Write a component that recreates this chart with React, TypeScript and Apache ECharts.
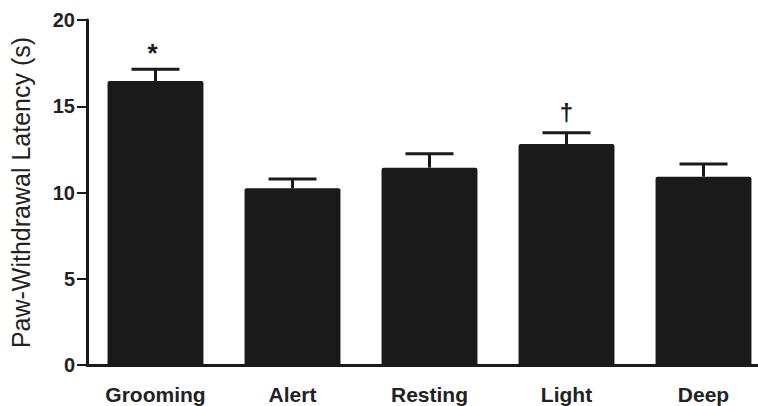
import React, { useEffect, useRef } from "react";
import * as echarts from "echarts";

const categories = ["Grooming", "Alert", "Resting", "Light", "Deep"];
const means = [16.46, 10.24, 11.44, 12.81, 10.92];
const sems = [0.68, 0.54, 0.81, 0.66, 0.73];
const marks = ["*", "", "", "†", ""];
const yTicks = { min: 0, max: 20, interval: 5 };

const INK = "#1a1a1a";
const FONT = "Liberation Sans, Arial, sans-serif";

export default function App() {
  const ref = useRef<HTMLDivElement>(null);
  useEffect(() => {
    if (!ref.current) return;
    const chart = echarts.init(ref.current, null, { renderer: "svg" });
    const errData = means.map((m, i) => [i, m, sems[i], marks[i]]);
    chart.setOption({
      animation: false,
      backgroundColor: "#ffffff",
      grid: {
        left: 87,
        top: 20,
        bottom: 41,
        width: 685,
        outerBoundsMode: "none",
        containLabel: false,
      },
      xAxis: {
        type: "category",
        data: categories,
        axisLine: { lineStyle: { color: INK, width: 3 } },
        axisTick: { show: false },
        axisLabel: {
          color: "#222",
          fontFamily: FONT,
          fontWeight: "bold",
          fontSize: 21,
          margin: 19,
        },
      },
      yAxis: {
        type: "value",
        min: yTicks.min,
        max: yTicks.max,
        interval: yTicks.interval,
        splitLine: { show: false },
        axisLine: { show: true, lineStyle: { color: INK, width: 3 } },
        axisTick: { show: true, length: 10, lineStyle: { color: INK, width: 2 } },
        axisLabel: {
          color: "#222",
          fontFamily: FONT,
          fontWeight: "bold",
          fontSize: 20,
          margin: 12,
        },
        name: "Paw-Withdrawal Latency (s)",
        nameLocation: "middle",
        nameGap: 54,
        nameTextStyle: {
          color: "#222",
          fontFamily: FONT,
          fontSize: 25,
        },
      },
      series: [
        {
          type: "bar",
          data: means,
          barWidth: "70%",
          itemStyle: { color: INK, borderRadius: [2, 2, 0, 0] },
          z: 2,
        },
        {
          type: "custom",
          data: errData,
          z: 3,
          renderItem: (params: any, api: any) => {
            const idx = api.value(0);
            const m = api.value(1);
            const e = api.value(2);
            const mark = errData[params.dataIndex][3] as string;
            const p0 = api.coord([idx, m]);
            const p1 = api.coord([idx, m + e]);
            const half = 24;
            const style = { stroke: INK, lineWidth: 3 };
            const children: any[] = [
              { type: "line", shape: { x1: p0[0], y1: p0[1], x2: p1[0], y2: p1[1] }, style },
              { type: "line", shape: { x1: p1[0] - half, y1: p1[1], x2: p1[0] + half, y2: p1[1] }, style },
            ];
            if (mark) {
              children.push({
                type: "text",
                x: p1[0] - (mark === "*" ? 3 : 0),
                y: p1[1] - (mark === "*" ? 16 : 20),
                style: {
                  text: mark,
                  fill: INK,
                  fontSize: mark === "*" ? 26 : 24,
                  fontWeight: "bold",
                  fontFamily: FONT,
                  align: "center",
                  verticalAlign: "middle",
                },
              });
            }
            return { type: "group", children };
          },
        },
      ],
    });
    return () => chart.dispose();
  }, []);
  return (
    <div
      ref={ref}
      style={{ position: "fixed", left: 0, top: 0, width: 758, height: 406 }}
    />
  );
}
